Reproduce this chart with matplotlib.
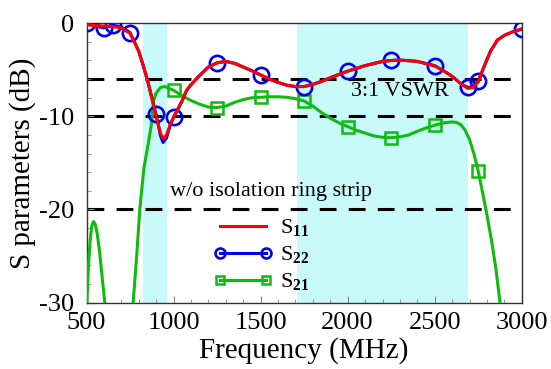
import numpy as np
import matplotlib
matplotlib.use("Agg")
import matplotlib.pyplot as plt
from matplotlib.ticker import MultipleLocator

# ── DATA ──────────────────────────────────────────────────
freq_s = [500, 550, 600, 650, 700, 750, 800, 825, 850, 875, 900, 925, 940,
          960, 980, 1000, 1025, 1050, 1075, 1100, 1150, 1200, 1250, 1300,
          1350, 1400, 1450, 1500, 1550, 1600, 1650, 1700, 1750, 1800, 1850,
          1900, 1950, 2000, 2100, 2200, 2250, 2300, 2400, 2500, 2550, 2600,
          2650, 2690, 2720, 2750, 2780, 2820, 2860, 2900, 2950, 3000]
s11 = [-0.15, -0.25, -0.3, -0.35, -0.5, -1.1, -3.0, -4.5, -6.1, -8.0, -10.0,
       -11.8, -12.4, -12.0, -10.9, -10.1, -9.2, -8.3, -7.2, -6.6, -5.6, -4.7,
       -4.25, -4.1, -4.3, -4.7, -5.1, -5.55, -6.0, -6.35, -6.65, -6.8, -6.8,
       -6.55, -6.25, -5.85, -5.5, -5.15, -4.55, -4.1, -4.0, -3.95, -4.1,
       -4.6, -5.1, -5.7, -6.5, -7.0, -6.9, -6.3, -4.8, -3.0, -1.8, -1.3,
       -0.9, -0.6]
s22 = [0.0, -0.3, -0.5, -0.2, -0.4, -1.0, -3.0, -4.5, -6.1, -8.0, -9.8,
       -12.1, -12.8, -12.3, -11.0, -10.1, -9.2, -8.3, -7.2, -6.6, -5.6, -4.7,
       -4.25, -4.1, -4.3, -4.7, -5.1, -5.55, -6.0, -6.35, -6.65, -6.8, -6.8,
       -6.55, -6.25, -5.85, -5.5, -5.15, -4.55, -4.1, -4.0, -3.95, -4.1,
       -4.55, -5.1, -5.7, -6.5, -6.9, -6.8, -6.2, -4.8, -3.0, -1.8, -1.3,
       -0.9, -0.65]
s22_marker_freq = [500, 600, 650, 750, 900, 1000, 1250, 1500, 1750, 2000,
                   2250, 2500, 2690, 2750, 3000]

freq_21 = [500, 510, 520, 530, 540, 550, 560, 575, 590, 605, 615, 650, 700,
           740, 768, 790, 806, 830, 855, 875, 885, 900, 925, 950, 975, 1000,
           1050, 1100, 1150, 1200, 1250, 1300, 1350, 1400, 1450, 1500, 1550,
           1600, 1650, 1700, 1750, 1800, 1850, 1900, 1950, 2000, 2050, 2100,
           2150, 2200, 2250, 2300, 2350, 2400, 2450, 2500, 2550, 2600, 2625,
           2650, 2675, 2700, 2725, 2750, 2775, 2800, 2825, 2850, 2875, 2900]
s21 = [-31, -26.5, -23.5, -21.8, -21.3, -21.6, -22.4, -24.5, -27.3, -30.0,
       -32, -40, -45, -38, -30, -24.5, -20, -15.5, -12.9, -10.6, -8.3, -7.5,
       -6.9, -6.8, -7.0, -7.2, -7.8, -8.3, -8.7, -9.0, -9.05, -8.9, -8.5,
       -8.2, -8.0, -7.95, -7.9, -7.9, -7.95, -8.1, -8.35, -8.9, -9.6, -10.2,
       -10.7, -11.1, -11.5, -11.8, -12.1, -12.25, -12.3, -12.2, -12.0, -11.6,
       -11.25, -10.95, -10.7, -10.6, -10.65, -10.9, -11.5, -12.5, -14.0,
       -15.9, -18.2, -20.6, -23.2, -26.2, -30.0, -33]
s21_marker_freq = [1000, 1250, 1500, 1750, 2000, 2250, 2500, 2750]

bands = [(824, 960), (1710, 2690)]
ref_levels = [-6, -10, -20]

# ── CONFIG ────────────────────────────────────────────────
CONFIG = {
    "figsize": (5.51, 3.69),
    "dpi": 100,
    "colors": {"S11": "#ff0000", "S22": "#0000ee", "S21": "#10bb10",
               "band": "#c8fafa"},
    "fonts": {"axis": 21, "ticks": 19, "text": 16, "legend": 16},
    "font_family": ["Liberation Serif", "DejaVu Serif"],
}

plt.rcParams['font.family'] = CONFIG['font_family']
plt.rcParams['axes.unicode_minus'] = False
plt.rcParams['mathtext.fontset'] = 'custom'
plt.rcParams['mathtext.rm'] = 'Liberation Serif'
plt.rcParams['mathtext.bf'] = 'Liberation Serif:bold'

fig = plt.figure(figsize=CONFIG["figsize"], dpi=CONFIG["dpi"])
ax = fig.add_axes([0.157, 0.18, 0.79, 0.757])

# bands
for lo, hi in bands:
    ax.axvspan(lo, hi, color=CONFIG["colors"]["band"], lw=0, zorder=0)

# reference lines
for lvl in ref_levels:
    ax.axhline(lvl, color="black", lw=2.2, dashes=(5.5, 4), zorder=1)

idx22 = list(np.nonzero(np.isin(freq_s, s22_marker_freq))[0])
idx21 = list(np.nonzero(np.isin(freq_21, s21_marker_freq))[0])

ax.plot(freq_21, s21, color=CONFIG["colors"]["S21"], lw=2.2, marker='s',
        ms=8, mfc='none', mew=1.8, markevery=idx21, zorder=3,
        label=r"S$_{\mathbf{21}}$")
ax.plot(freq_s, s22, color=CONFIG["colors"]["S22"], lw=2.2, marker='o',
        ms=11, mfc='none', mew=1.9, markevery=idx22, zorder=4,
        label=r"S$_{\mathbf{22}}$")
ax.plot(freq_s, s11, color=CONFIG["colors"]["S11"], lw=2.2, zorder=5,
        label=r"S$_{\mathbf{11}}$")

ax.text(2300, -7.3, "3:1 VSWR", fontsize=CONFIG["fonts"]["text"],
        ha='center', va='center')
ax.text(980, -18.1, "w/o isolation ring strip", fontsize=CONFIG["fonts"]["text"],
        ha='left', va='center')

# axes
ax.set_xlim(500, 3000)
ax.set_ylim(-30, 0)
ax.xaxis.set_major_locator(MultipleLocator(500))
ax.xaxis.set_minor_locator(MultipleLocator(100))
ax.yaxis.set_major_locator(MultipleLocator(10))
ax.yaxis.set_minor_locator(MultipleLocator(2))
ax.tick_params(which='both', direction='in', colors='#888888',
               labelcolor='black', labelsize=CONFIG["fonts"]["ticks"])
ax.tick_params(which='major', length=5)
ax.tick_params(which='minor', length=3)
ax.tick_params(axis='x', pad=7)
ax.tick_params(axis='y', pad=9)
ax.set_xlabel("Frequency (MHz)", fontsize=CONFIG["fonts"]["axis"], labelpad=2)
ax.set_ylabel("S parameters (dB)", fontsize=CONFIG["fonts"]["axis"], labelpad=2)
for s in ax.spines.values():
    s.set_linewidth(1.0)
    s.set_color("#333333")

h, l = ax.get_legend_handles_labels()
order = [2, 1, 0]
ax.legend([h[i] for i in order], [l[i] for i in order], frameon=False,
          fontsize=CONFIG["fonts"]["legend"], loc='upper left',
          bbox_to_anchor=(0.255, 0.36), numpoints=2, handlelength=2.7,
          handletextpad=0.3, labelspacing=0.25, borderpad=0.2,
          markerscale=0.65)

fig.savefig("out.png", dpi=CONFIG["dpi"])
